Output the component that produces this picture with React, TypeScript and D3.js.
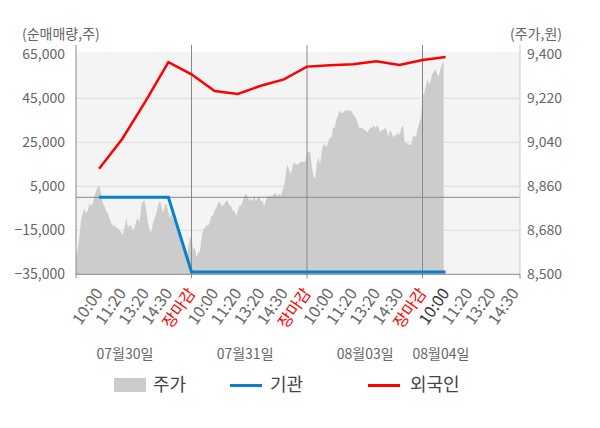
import React from "react";
import * as d3 from "d3";

// ---- data ----
const xLabels = [
  "10:00", "11:20", "13:20", "14:30", "장마감",
  "10:00", "11:20", "13:20", "14:30", "장마감",
  "10:00", "11:20", "13:20", "14:30", "장마감",
  "10:00", "11:20", "13:20", "14:30",
];
const dateLabels = ["07월30일", "07월31일", "08월03일", "08월04일"];
const datePos = [2.12, 7.32, 12.52, 15.8];
const leftTicks = [65000, 45000, 25000, 5000, -15000, -35000];
const rightTicks = [9400, 9220, 9040, 8860, 8680, 8500];

// 외국인 (foreign net buy), at label slots 1..16
const foreign = [13000, 26500, 43500, 61400, 55900, 48300, 47000, 50700, 53600, 59400, 60000, 60450, 61800, 60100, 62400, 63800];
// 기관 (institution net buy)
const inst = [0, 0, 0, 0, -34000, -34000, -34000, -34000, -34000, -34000, -34000, -34000, -34000, -34000, -34000, -34000];

// 주가 (price) by day
const priceDay1 = [8560, 8600, 8650, 8720, 8750, 8770, 8750, 8760, 8790, 8780, 8790, 8820, 8840, 8860, 8860, 8830, 8790, 8780, 8760, 8750, 8730, 8710, 8700, 8700, 8690, 8690, 8680, 8670, 8660, 8690, 8730, 8690, 8700, 8700, 8680, 8690, 8720, 8730, 8710, 8780, 8800, 8800, 8760, 8710, 8680, 8670, 8710, 8730, 8750, 8780, 8800, 8780, 8750, 8780, 8790, 8760, 8730, 8750, 8720, 8730, 8690, 8670, 8680, 8630, 8610, 8590, 8560, 8610, 8650];
const priceDay2 = [8650, 8600, 8610, 8570, 8590, 8590, 8640, 8680, 8690, 8700, 8700, 8710, 8740, 8740, 8760, 8770, 8790, 8800, 8780, 8780, 8790, 8800, 8800, 8780, 8780, 8760, 8760, 8740, 8760, 8780, 8780, 8800, 8820, 8830, 8820, 8800, 8810, 8800, 8820, 8800, 8810, 8820, 8800, 8800, 8780, 8800, 8820, 8820, 8820, 8820, 8830, 8830, 8820, 8830, 8820, 8840, 8860, 8900, 8950, 8930, 8910, 8930, 8960, 8950, 8950, 8950, 8960, 8960, 8960, 8960];
const priceDay3 = [9000, 9000, 9000, 8940, 8900, 8890, 8950, 8980, 8950, 9000, 9030, 9030, 9020, 9040, 9060, 9060, 9100, 9100, 9130, 9150, 9170, 9160, 9160, 9170, 9170, 9170, 9170, 9170, 9160, 9150, 9140, 9120, 9100, 9100, 9100, 9090, 9090, 9080, 9090, 9100, 9100, 9110, 9100, 9110, 9100, 9080, 9090, 9090, 9100, 9090, 9060, 9090, 9080, 9060, 9070, 9070, 9080, 9070, 9100, 9110, 9040, 9040, 9030, 9030, 9030, 9060, 9070, 9060, 9100, 9120, 9140];
const priceDay4 = [9230, 9240, 9270, 9300, 9280, 9290, 9320, 9330, 9340, 9320, 9310, 9340, 9360, 9370];

const W = 600, H = 428;
const L = 76, R = 520, T = 54.3, B = 274.3;
const FONT = "'Noto Sans CJK KR', 'Noto Sans', sans-serif";

export default function App() {
  const x = d3.scaleLinear().domain([0, 19.22]).range([L, R]);
  const yL = d3.scaleLinear().domain([-35000, 65000]).range([B, T]);
  const yR = d3.scaleLinear().domain([8500, 9400]).range([B, T]);

  const days = [priceDay1, priceDay2, priceDay3, priceDay4];
  const pricePts: [number, number][] = [];
  days.forEach((arr, d) => {
    const n = d === 3 ? priceDay3.length : arr.length;
    arr.forEach((v, j) => pricePts.push([5 * d + (5 * j) / n, v]));
  });

  const area = d3
    .area<[number, number]>()
    .x((p) => x(p[0]))
    .y0(B)
    .y1((p) => yR(p[1]))(pricePts) as string;

  const line = d3
    .line<number>()
    .x((_, i) => x(i + 1))
    .y((v) => yL(v));

  const dayLines = [5, 10, 15];
  const bottomTicks = [0, 5, 10, 15, 19.22];

  return (
    <svg width={W} height={H} style={{ position: "absolute", left: 0, top: 0 }} fontFamily={FONT}>
      <rect x={0} y={0} width={W} height={H} fill="#fff" />
      <rect x={L} y={52} width={R - L} height={B - 52} fill="#f4f4f4" />
      {leftTicks.slice(1, -1).map((t) => (
        <line key={t} x1={L} x2={R} y1={yL(t)} y2={yL(t)} stroke="#dcdcdc" strokeWidth={1} />
      ))}
      <path d={area} fill="#cccccc" />
      <line x1={L} x2={R} y1={yL(0)} y2={yL(0)} stroke="#888" strokeWidth={1} />
      {dayLines.map((k) => (
        <line key={k} x1={x(k)} x2={x(k)} y1={45} y2={B} stroke="#888" strokeWidth={1} />
      ))}
      <line x1={L} x2={L} y1={45} y2={B} stroke="#888" strokeWidth={1} />
      <line x1={R} x2={R} y1={45} y2={B} stroke="#ccc" strokeWidth={1} />
      <line x1={L} x2={R} y1={B} y2={B} stroke="#888" strokeWidth={1} />
      {bottomTicks.map((k) => (
        <line key={k} x1={x(k)} x2={x(k)} y1={B} y2={B + 4} stroke="#888" strokeWidth={1} />
      ))}
      <path d={line(inst) as string} fill="none" stroke="#0a7fcc" strokeWidth={3} />
      <path d={line(foreign) as string} fill="none" stroke="#ff0000" strokeWidth={2.5} />

      {leftTicks.map((t) => (
        <text key={t} x={65} y={yL(t)} dy="0.35em" textAnchor="end" fontSize={14} fill="#666">
          {d3.format(",")(t)}
        </text>
      ))}
      {rightTicks.map((t) => (
        <text key={t} x={527} y={yR(t)} dy="0.35em" textAnchor="start" fontSize={14} fill="#666">
          {d3.format(",")(t)}
        </text>
      ))}
      <text x={22} y={34} dy="0.35em" fontSize={14} fill="#666">(순매매량,주)</text>
      <text x={562} y={34} dy="0.35em" textAnchor="end" fontSize={14} fill="#666">(주가,원)</text>

      {xLabels.map((s, i) => {
        const px = x(i + 1);
        const py = 290;
        const color = s === "장마감" ? "#ff0000" : i === 15 ? "#333" : "#666";
        return (
          <text key={i} x={px} y={py} dy="0.35em" textAnchor="end" fontSize={16} fill={color}
            transform={`rotate(-55 ${px} ${py})`}>
            {s}
          </text>
        );
      })}
      {dateLabels.map((s, i) => (
        <text key={s} x={x(datePos[i])} y={354} dy="0.35em" textAnchor="middle" fontSize={14} fill="#666">
          {s}
        </text>
      ))}

      <rect x={114} y={378} width={32} height={14} fill="#cccccc" />
      <text x={153} y={385} dy="0.35em" fontSize={18} fill="#444">주가</text>
      <line x1={230} x2={262} y1={385.5} y2={385.5} stroke="#0a7fcc" strokeWidth={3} />
      <text x={270} y={385} dy="0.35em" fontSize={18} fill="#444">기관</text>
      <line x1={368} x2={400} y1={385.5} y2={385.5} stroke="#ff0000" strokeWidth={3} />
      <text x={410} y={385} dy="0.35em" fontSize={18} fill="#444">외국인</text>
    </svg>
  );
}
